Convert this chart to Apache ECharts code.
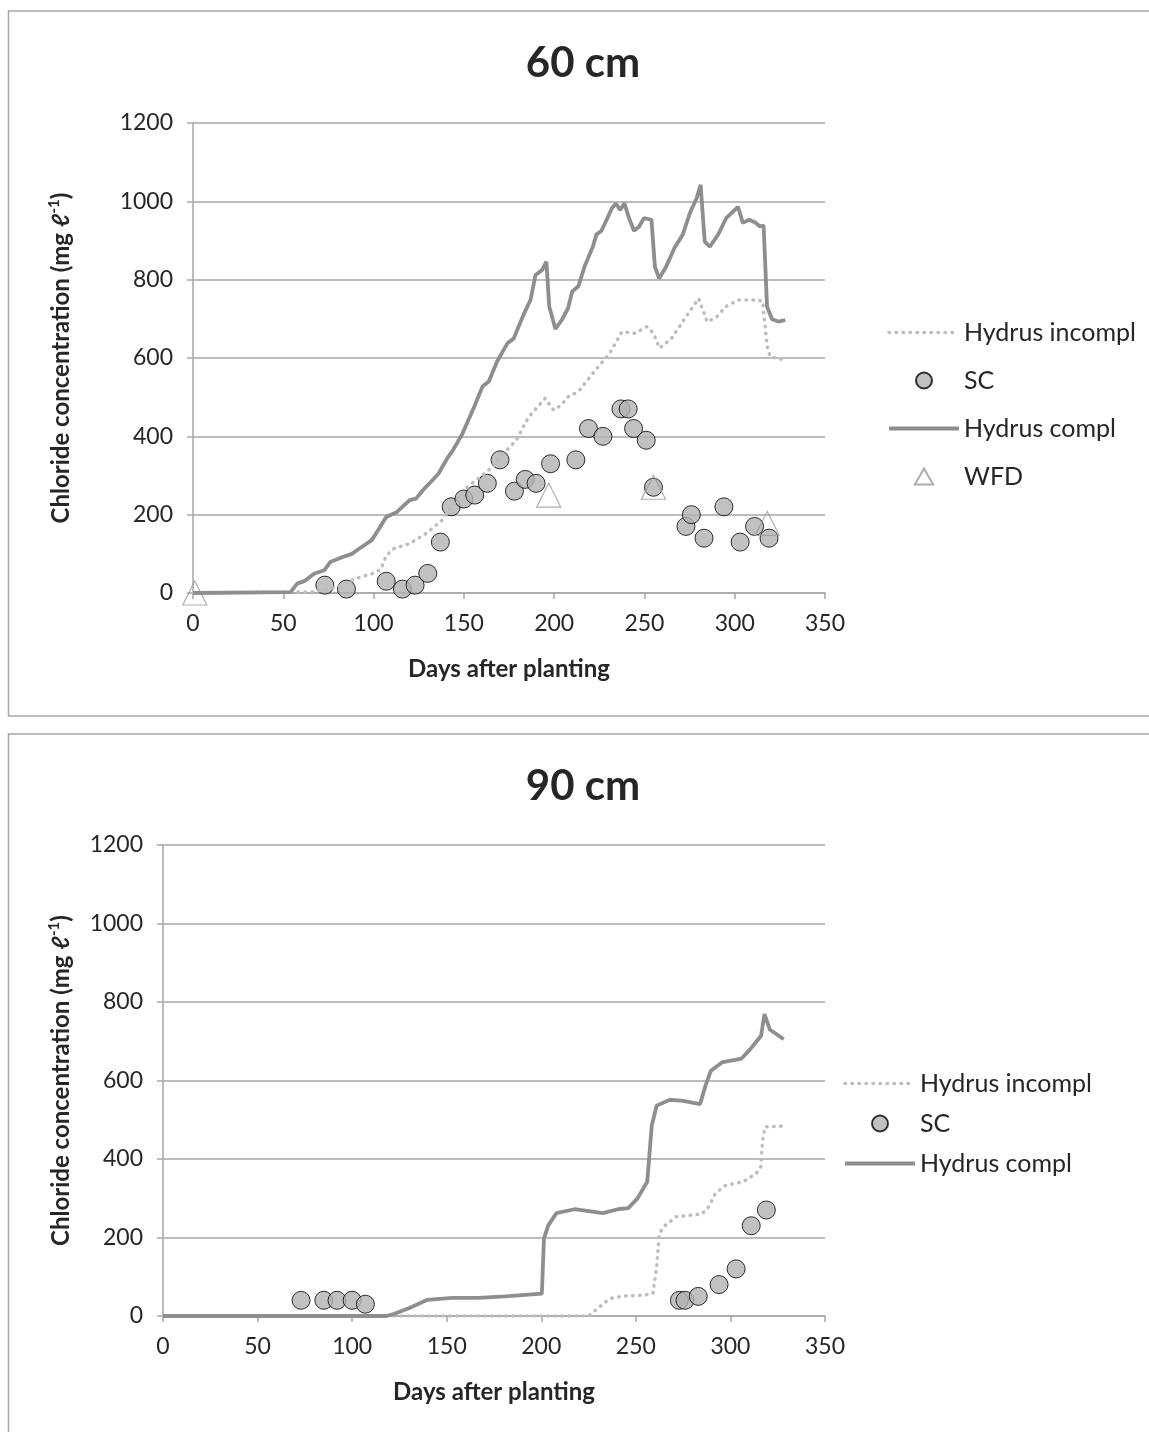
<!DOCTYPE html>
<html>
<head>
<meta charset="utf-8">
<script src="https://cdn.jsdelivr.net/npm/echarts@6/dist/echarts.min.js"></script>
<style>
html,body{margin:0;padding:0;background:#fff;}
#chart{width:1149px;height:1432px;}
</style>
</head>
<body>
<div id="chart"></div>
<script>
// ---------- 60 cm ----------
const incompl60Days = [0, 66, 80, 90, 99, 104, 107, 111, 120, 129, 138, 145, 152, 160, 166, 172, 179, 186, 195, 199.7, 204, 207.7, 213.4, 221.5, 226, 230.7, 237.6, 244.6, 251.5, 255, 258.4, 265, 273, 280, 284.8, 290, 295, 302, 312.5, 315.5, 318, 319.6, 327.6];
const incompl60Vals = [0, 3, 15, 37, 49, 60, 95, 113, 126, 152, 186, 230, 271, 300, 322, 356, 390, 450, 497, 467, 480, 501, 514, 561, 586, 612, 667, 663, 680, 663, 625, 650, 705, 752, 692, 705, 731, 748, 748, 745, 629, 603, 595];

const sc60Days = [73, 85, 107, 116, 123, 130, 137, 143, 150, 156, 163, 170, 178, 184, 190, 198, 212, 219, 227, 237, 241, 244, 251, 255, 273, 276, 283, 294, 303, 311, 319];
const sc60Vals = [20, 10, 30, 10, 20, 50, 130, 220, 240, 250, 280, 340, 260, 290, 280, 330, 340, 420, 400, 470, 470, 420, 390, 270, 170, 200, 140, 220, 130, 170, 140];

const compl60Days = [0, 54, 57.7, 62, 67, 72.7, 76, 83, 88, 92, 99, 103, 107, 113, 120, 123.5, 128, 132.6, 136, 140.7, 144, 148.8, 155.8, 160.3, 163.8, 168.4, 174.2, 177.6, 183.4, 186.9, 189.7, 193.4, 195.7, 197.3, 200.7, 204.2, 207.7, 210, 213.4, 216.9, 221.5, 223.4, 226.2, 229.6, 232, 234.3, 236.6, 238.9, 241.2, 244.2, 247, 249.7, 253.9, 255.8, 258.1, 262, 266.6, 271.2, 275.2, 278.9, 281.1, 283.4, 286.2, 290.8, 295.4, 301.8, 304.5, 308, 311.4, 313.8, 316, 317.9, 320.7, 324.2, 328];
const compl60Vals = [0, 2, 24, 31, 49, 58, 79, 92, 100, 113, 135, 164, 194, 207, 237, 241, 266, 288, 305, 343, 365, 403, 476, 527, 540, 591, 638, 650, 714, 748, 812, 825, 846, 731, 674, 697, 727, 770, 783, 834, 885, 915, 925, 958, 983, 994, 978, 995, 961, 925, 935, 957, 953, 833, 803, 833, 881, 915, 970, 1008, 1042, 897, 884, 915, 958, 986, 945, 953, 946, 936, 938, 731, 699, 693, 697];

const wfd60Days = [1, 197, 255, 318];
const wfd60Vals = [0, 250, 270, 178];

// ---------- 90 cm ----------
const incompl90Days = [0, 225, 230, 235, 238, 245, 254, 259, 261, 262.4, 264.6, 271.4, 285, 288.5, 292, 297.6, 306.7, 313.6, 316, 317, 318.3, 327.7];
const incompl90Vals = [0, 0, 20, 40, 47, 51, 53, 57, 125, 210, 227, 253, 260, 278, 312, 333, 342, 363, 380, 448, 482, 484];

const sc90Days = [73, 85, 92, 100, 107, 273, 276, 283, 294, 303, 311, 319];
const sc90Vals = [40, 40, 40, 40, 30, 40, 40, 50, 80, 120, 230, 270];

const compl90Days = [0, 118, 122, 130, 139.5, 153, 167, 181, 200.3, 201.4, 203.7, 208, 217.6, 232.5, 240.5, 246, 250.8, 256, 257, 258.4, 261, 268, 275, 284, 286.8, 289.7, 295.5, 305.9, 310.5, 316.2, 318, 320.8, 328.2];
const compl90Vals = [0, 0, 5, 20, 41, 46, 46, 50, 57, 197, 231, 262, 272, 262, 272, 275, 299, 342, 400, 485, 536, 551, 548, 540, 587, 625, 646, 656, 680, 714, 769, 730, 705];

// ---------- labels ----------
const chartTitles = ['60 cm', '90 cm'];
const seriesNames = ['Hydrus incompl', 'SC', 'Hydrus compl', 'WFD'];
const xAxisTitle = 'Days after planting';
const xTicks = [0, 50, 100, 150, 200, 250, 300, 350];
const yTicks = [0, 200, 400, 600, 800, 1000, 1200];

const zip = (a, b) => a.map((d, i) => [d, b[i]]);

const FONT = 'Lato, "Open Sans", "DejaVu Sans", sans-serif';
const TXT = '#262626';
const GRID = '#a6a6a6';

function xAxisDef(gi, gap) {
  return {
    type: 'value', gridIndex: gi, min: xTicks[0], max: xTicks[xTicks.length - 1], interval: 50,
    name: xAxisTitle, nameLocation: 'middle', nameGap: gap,
    nameTextStyle: { fontFamily: FONT, fontSize: 24, fontWeight: 'bold', color: TXT, lineHeight: 26 },
    axisLine: { show: true, lineStyle: { color: GRID, width: 1.5 } },
    axisTick: { show: true, inside: false, length: 6, lineStyle: { color: GRID, width: 1.5 } },
    axisLabel: { fontFamily: FONT, fontSize: 23, color: TXT, margin: 19, formatter: v => String(v) },
    splitLine: { show: false }
  };
}
function yAxisDef(gi, gap) {
  return {
    type: 'value', gridIndex: gi, min: yTicks[0], max: yTicks[yTicks.length - 1], interval: 200,
    name: '{a|Chloride concentration (mg ℓ}{s|-1}{a|)}', nameLocation: 'middle', nameGap: gap,
    nameTextStyle: {
      rich: {
        a: { fontFamily: FONT, fontSize: 24, fontWeight: 'bold', color: TXT, lineHeight: 28 },
        s: { fontFamily: FONT, fontSize: 15, fontWeight: 'bold', color: TXT, lineHeight: 15, verticalAlign: 'top' }
      }
    },
    axisLine: { show: true, lineStyle: { color: GRID, width: 1.5 } },
    axisTick: { show: true, inside: false, length: 6, lineStyle: { color: GRID, width: 1.5 } },
    axisLabel: { fontFamily: FONT, fontSize: 23, color: TXT, margin: 20, formatter: v => String(v) },
    splitLine: { show: true, lineStyle: { color: GRID, width: 1.5 } }
  };
}

const incomplStyle = { color: '#bdbdbd', width: 3.5, type: [0.5, 6.5], cap: 'round' };
const complStyle = { color: '#8e8e8e', width: 3.8, type: 'solid' };
const scItem = { color: '#b2b2b2', borderColor: '#000', borderWidth: 1 };
const wfdItem = { color: 'rgba(255,255,255,0)', borderColor: '#9a9a9a', borderWidth: 1.2 };

function lineSeries(name, gi, data, style) {
  return {
    name, type: 'line', xAxisIndex: gi, yAxisIndex: gi, data, symbol: 'none',
    smooth: false, lineStyle: style, itemStyle: { color: style.color }, silent: true
  };
}
function scatterSeries(name, gi, data, sym, size, item) {
  return {
    name, type: 'scatter', xAxisIndex: gi, yAxisIndex: gi, data, symbol: sym,
    symbolSize: size, symbolKeepAspect: true, itemStyle: item, clip: false, silent: true
  };
}

const legendText = { fontFamily: FONT, fontSize: 25, color: TXT };
function legendData(names) {
  return names.map(n => {
    if (n === 'Hydrus incompl') return { name: n, itemStyle: { opacity: 0 }, lineStyle: { width: 3.5 } };
    if (n === 'Hydrus compl') return { name: n, itemStyle: { opacity: 0 }, lineStyle: { width: 4 } };
    if (n === 'WFD') return { name: n, icon: 'path://M8,0 L16,14 L0,14 Z' };
    return { name: n };
  });
}

const option = {
  animation: false,
  backgroundColor: '#ffffff',
  graphic: [
    { type: 'rect', shape: { x: 8.5, y: 11, width: 1160, height: 705 }, style: { fill: 'none', stroke: '#a6a6a6', lineWidth: 1.5 }, silent: true },
    { type: 'rect', shape: { x: 8.5, y: 734, width: 1160, height: 800 }, style: { fill: 'none', stroke: '#a6a6a6', lineWidth: 1.5 }, silent: true },
    { type: 'text', x: 583, y: 63, style: { text: chartTitles[0], font: 'bold 42px ' + FONT, fill: TXT, align: 'center', verticalAlign: 'middle' }, silent: true },
    { type: 'text', x: 583, y: 786, style: { text: chartTitles[1], font: 'bold 42px ' + FONT, fill: TXT, align: 'center', verticalAlign: 'middle' }, silent: true }
  ],
  grid: [
    { left: 193, top: 123, width: 632, height: 470 },
    { left: 163, top: 845, width: 662, height: 471 }
  ],
  xAxis: [xAxisDef(0, 63), xAxisDef(1, 63)],
  yAxis: [yAxisDef(0, 118), yAxisDef(1, 88)],
  legend: [
    { orient: 'vertical', left: 887, top: 320, padding: 0, itemWidth: 70, itemHeight: 16, itemGap: 23,
      symbolKeepAspect: true, data: legendData(seriesNames), textStyle: legendText, selectedMode: false },
    { orient: 'vertical', left: 843, top: 1071, padding: 0, itemWidth: 70, itemHeight: 16, itemGap: 15,
      symbolKeepAspect: true, data: legendData(seriesNames.slice(0, 3)), textStyle: legendText, selectedMode: false }
  ],
  series: [
    lineSeries(seriesNames[0], 0, zip(incompl60Days, incompl60Vals), incomplStyle),
    scatterSeries(seriesNames[1], 0, zip(sc60Days, sc60Vals), 'circle', 18, scItem),
    lineSeries(seriesNames[2], 0, zip(compl60Days, compl60Vals), complStyle),
    scatterSeries(seriesNames[3], 0, zip(wfd60Days, wfd60Vals), 'triangle', 24, wfdItem),

    lineSeries(seriesNames[0], 1, zip(incompl90Days, incompl90Vals), incomplStyle),
    scatterSeries(seriesNames[1], 1, zip(sc90Days, sc90Vals), 'circle', 18, scItem),
    lineSeries(seriesNames[2], 1, zip(compl90Days, compl90Vals), complStyle)
  ]
};

const chart = echarts.init(document.getElementById('chart'), null, { renderer: 'canvas' });
chart.setOption(option);
</script>
</body>
</html>
